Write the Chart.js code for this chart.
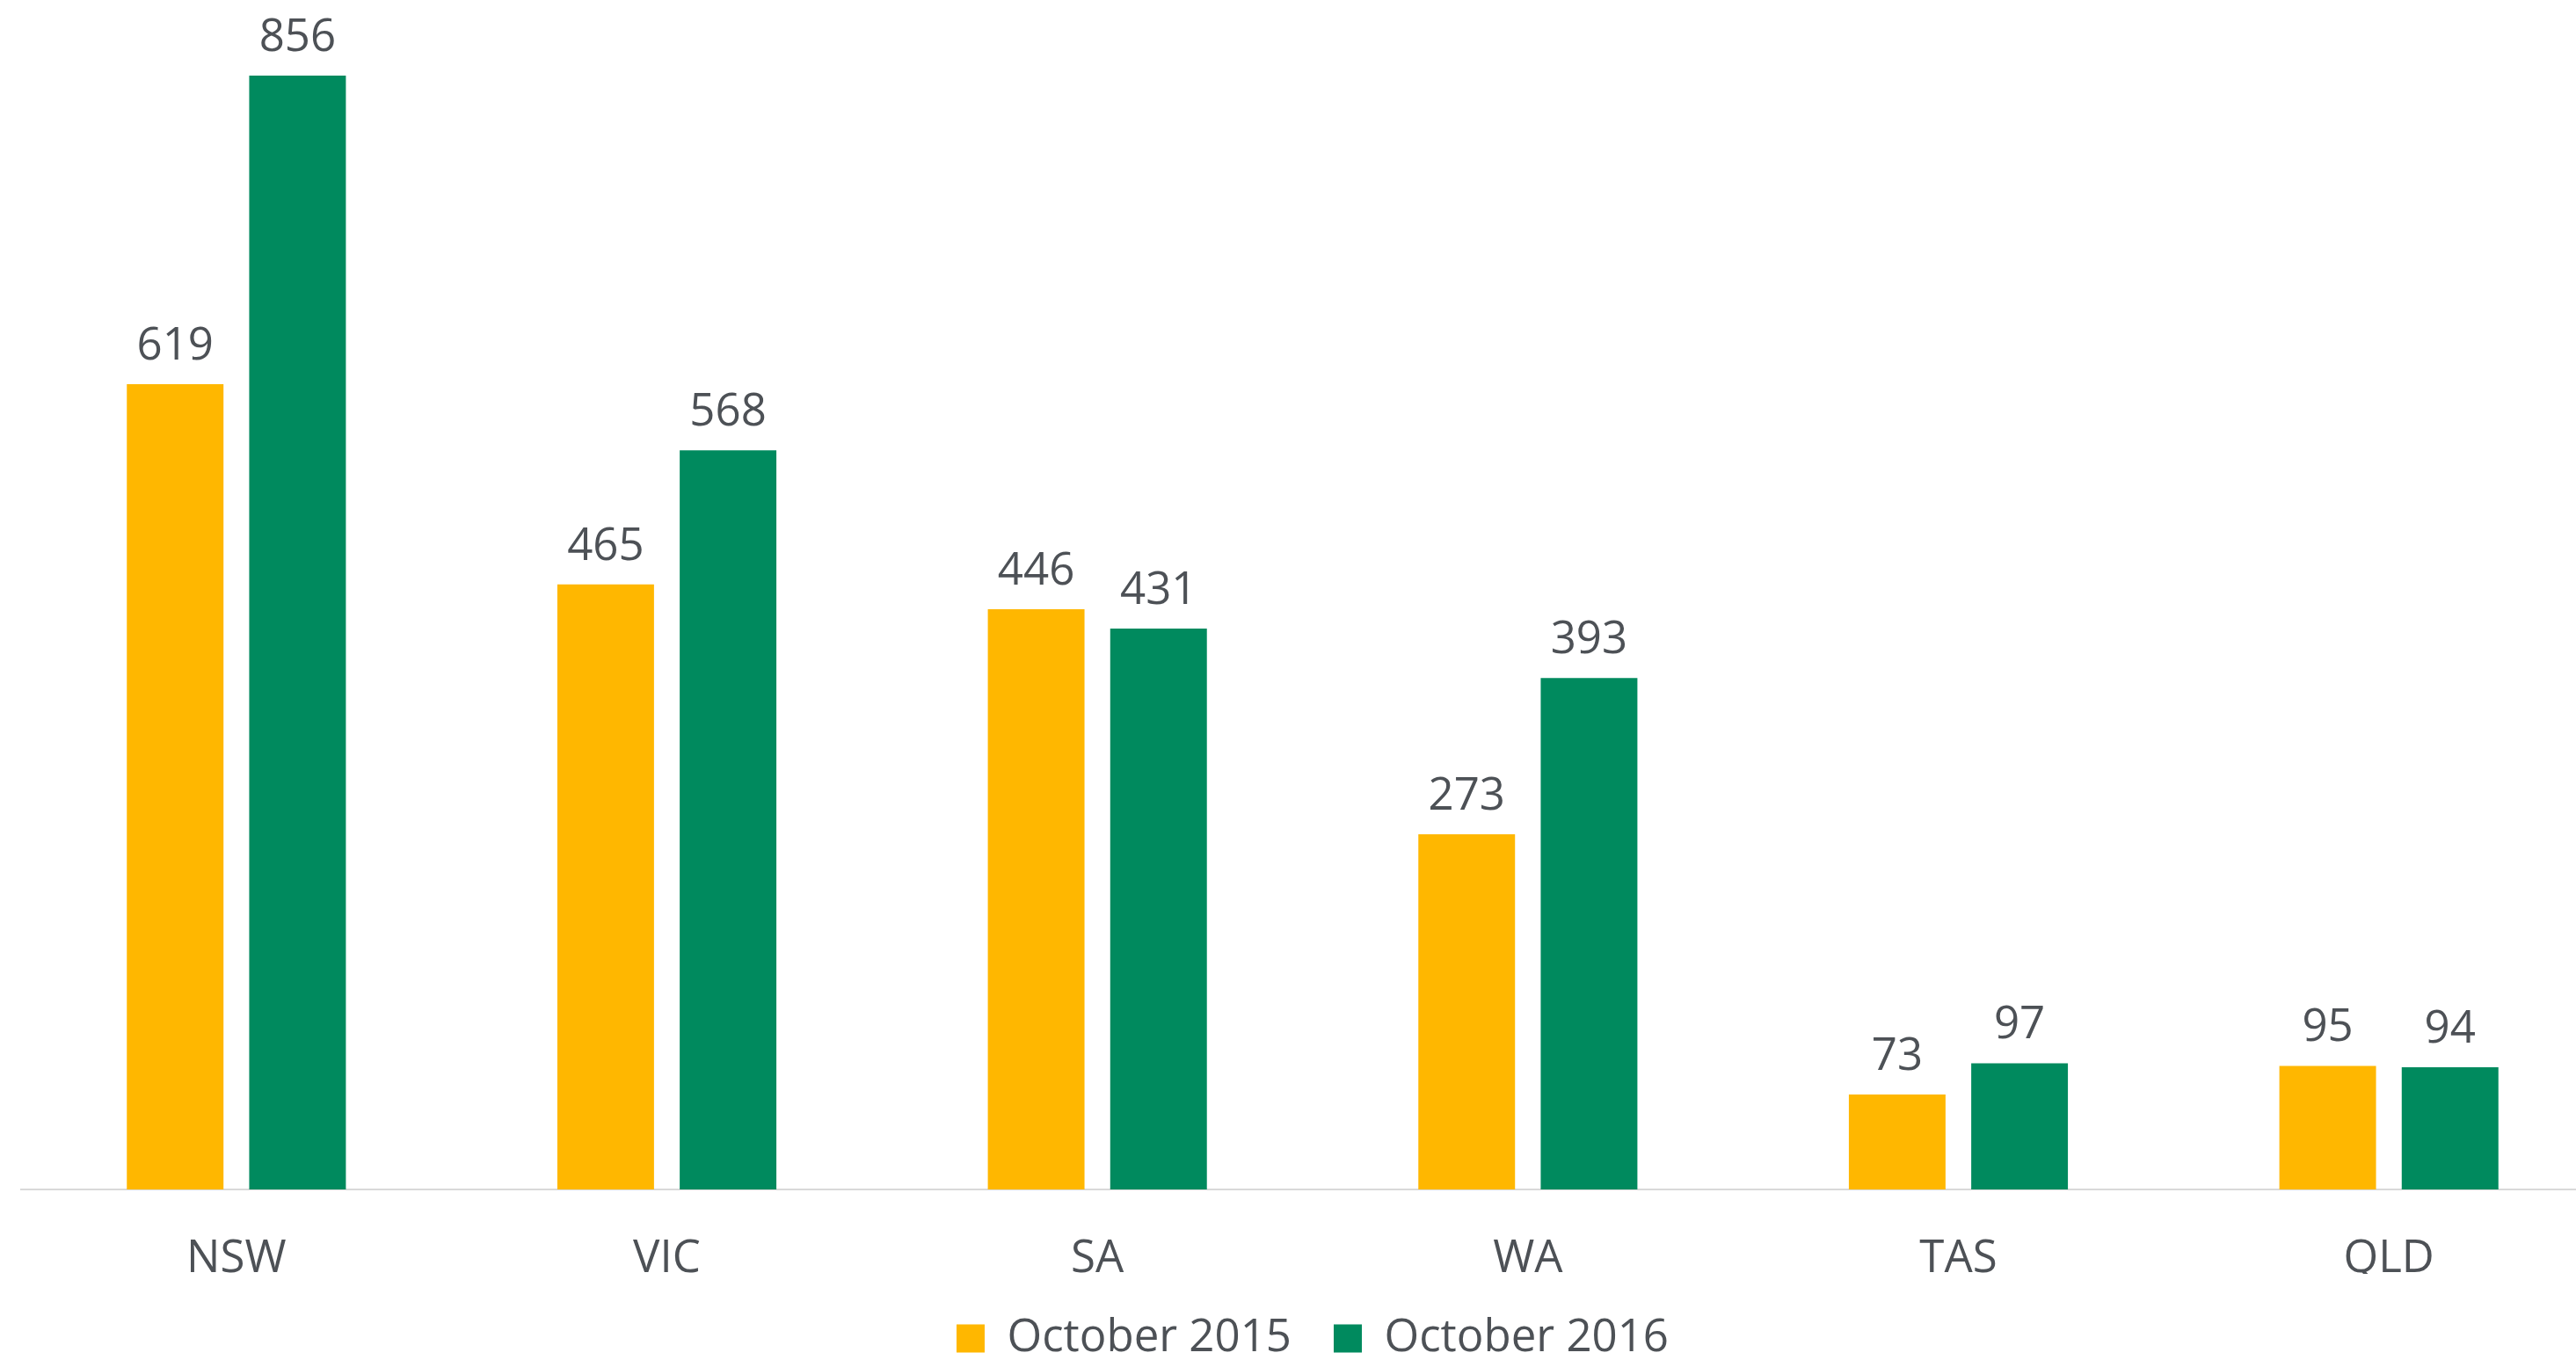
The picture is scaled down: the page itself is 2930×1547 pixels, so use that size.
<!DOCTYPE html>
<html>
<head>
<meta charset="utf-8">
<script src="https://cdn.jsdelivr.net/npm/chart.js@4.4.0/dist/chart.umd.min.js"></script>
<style>
  html, body { margin: 0; padding: 0; background: #fff; overflow: hidden; }
  #wrap { width: 2962px; height: 1547px; position: relative; }
</style>
</head>
<body>
<div id="wrap"><canvas id="myChart"></canvas></div>
<script>
// ////////////// chart data
const states = ["NSW", "VIC", "SA", "WA", "TAS", "QLD"];
const oct2015 = [619, 465, 446, 273, 73, 95];
const oct2016 = [856, 568, 431, 393, 97, 94];
const seriesNames = ["October 2015", "October 2016"];

const textColor = '#4d5156';
const fontFamily = "'Open Sans', 'Noto Sans', sans-serif";

// ////////////// draw the numbers above each bar
const barValues = {
    id: 'barValues',
    afterDatasetsDraw(chart) {
        const ctx = chart.ctx;
        ctx.save();
        ctx.fillStyle = textColor;
        ctx.font = '51px ' + fontFamily;
        ctx.textAlign = 'center';
        ctx.textBaseline = 'alphabetic';
        chart.data.datasets.forEach((ds, i) => {
            chart.getDatasetMeta(i).data.forEach((bar, j) => {
                ctx.fillText(ds.data[j], bar.x, bar.y - 28);
            });
        });
        ctx.restore();
    }
};

const ctx = document.getElementById('myChart').getContext('2d');
const myChart = new Chart(ctx, {
    type: 'bar',
    data: {
        labels: states,
        datasets: [{
            label: seriesNames[0],
            data: oct2015,
            backgroundColor: '#ffb700',
            categoryPercentage: 0.5685,
            barPercentage: 0.79
        }, {
            label: seriesNames[1],
            data: oct2016,
            backgroundColor: '#008a5e',
            categoryPercentage: 0.5685,
            barPercentage: 0.79
        }]
    },
    options: {
        responsive: true,
        maintainAspectRatio: false,
        animation: false,
        layout: { padding: { left: 24, right: 0, top: 21, bottom: -11 } },
        scales: {
            x: {
                grid: { display: false, drawTicks: false },
                border: { display: true, color: '#d9d9d9', width: 2 },
                ticks: {
                    color: textColor,
                    padding: 59,
                    font: { family: fontFamily, size: 51, lineHeight: 0.8 }
                },
                // axis band just tall enough for the labels
                afterFit: (scale) => { scale.height = 96; }
            },
            y: {
                display: false,
                min: 0,
                max: 900
            }
        },
        plugins: {
            tooltip: { enabled: false },
            legend: {
                position: 'bottom',
                labels: {
                    color: textColor,
                    boxWidth: 32,
                    boxHeight: 32,
                    padding: 48,
                    font: { family: fontFamily, size: 51 }
                }
            }
        }
    },
    plugins: [barValues]
});
</script>
</body>
</html>
